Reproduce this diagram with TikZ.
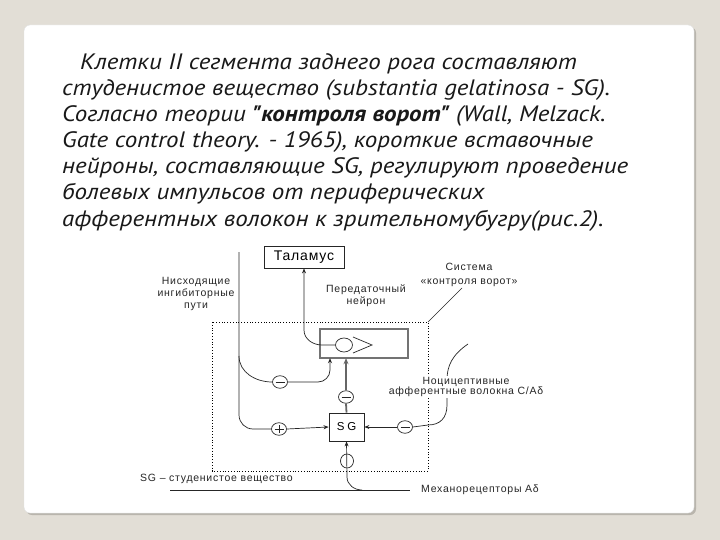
\documentclass[tikz,border=0pt]{standalone}
\usepackage{fontspec}
\setmainfont{Liberation Sans}
\newfontfamily\cyrbody[FakeStretch=1.12,Ligatures=TeXOff]{PT Sans}
\usetikzlibrary{arrows.meta,shapes.geometric}
\definecolor{bgc}{HTML}{E2DED6}
\definecolor{edgec}{HTML}{B9B5AD}
\begin{document}
\begin{tikzpicture}[x=1pt,y=-1pt,
  body/.style={font=\fontsize{22.3}{26}\selectfont\cyrbody\itshape, anchor=base west, inner sep=0pt, text=black!90},
  lbl/.style={font=\fontsize{10.5}{12}\selectfont\addfontfeatures{LetterSpace=7}, align=center, inner sep=1pt, text=black!85},
  ln/.style={line width=0.7pt, draw=black!85},
  arr/.style={ln, -{Stealth[length=5pt,width=4pt]}},
  sgn/.style={ellipse, draw=black!85, line width=0.7pt, minimum width=15pt, minimum height=12.5pt, inner sep=0pt, fill=white},
  minussign/.style={sgn, path picture={\draw[line width=0.7pt, black!85] ([xshift=-4.5pt]path picture bounding box.center) -- ([xshift=4.5pt]path picture bounding box.center);}},
  plussign/.style={sgn, path picture={\draw[line width=0.7pt, black!85] ([xshift=-4.5pt]path picture bounding box.center) -- ([xshift=4.5pt]path picture bounding box.center) ([yshift=-4pt]path picture bounding box.center) -- ([yshift=4pt]path picture bounding box.center);}},
]
\useasboundingbox (0,0) rectangle (720,540);
\fill[bgc] (0,0) rectangle (720,540);
% panel
\fill[edgec, rounded corners=6pt] (26,27) rectangle (696,515);
\fill[white, rounded corners=6pt] (24,25) rectangle (694,513);
\draw[black!12, rounded corners=6pt] (24,25) rectangle (694,513);

% body text
\node[body] (t1) at (80,70) {Клетки II сегмента заднего рога составляют};
\node[body] (t2) at (62,96) {студенистое вещество (substantia gelatinosa - SG).};
\node[body] (t3) at (62,122) {Согласно теории \textbf{"контроля ворот"} (Wall, Melzack.};
\node[body] (t4) at (62,148) {Gate control theory. - 1965), короткие вставочные};
\node[body] (t5) at (62,174) {нейроны, составляющие SG, регулируют проведение};
\node[body] (t6) at (62,200) {болевых импульсов от периферических};
\node[body] (t7) at (62,226) {афферентных волокон к зрительномубугру(рис.2).};

% diagram
\draw[black, dotted, line width=0.8pt] (212,322) rectangle (428,471);
\coordinate (gc) at (428,322);
\coordinate (gl) at (462,288);
\draw[ln, line width=0.5pt] (gc) -- (gl);

\node[draw=black!85, line width=0.8pt, minimum width=80pt, minimum height=22pt, inner sep=0pt,
      font=\fontsize{14}{14}\selectfont\addfontfeatures{LetterSpace=6}] (thal) at (304,257) {Таламус};

\node[draw=black!55, line width=1.3pt, minimum width=88pt, minimum height=29pt, inner sep=0pt] (tn) at (364,343.5) {};
\node[ellipse, draw=black!85, line width=0.7pt, minimum width=17pt, minimum height=14pt, inner sep=0pt] (soma) at (344,345) {};
\coordinate (chev1) at (353,337);
\coordinate (chev2) at (372,345);
\coordinate (chev3) at (353,353);
\draw[ln, line join=miter] (chev1) -- (chev2) -- (chev3);
\draw[arr] (soma.west) -- (322,345) to[out=180,in=-90] (304,330) -- (thal.south);

\node[draw=black!85, line width=0.8pt, minimum width=35pt, minimum height=28pt, inner sep=0pt,
      font=\fontsize{11.5}{11.5}\selectfont\addfontfeatures{LetterSpace=25}] (sg) at (346.5,427) {SG};

% descending inhibitory path
\coordinate (dtop) at (239,252);
\coordinate (dfork) at (239,356);
\node[minussign] (m1) at (280,382) {};
\node[plussign] (p1) at (279,429) {};
\draw[ln, rounded corners=14pt] (dtop) -- (239,429) -- (p1.west);
\draw[ln] (dfork) to[out=-90,in=180] (m1.west);
\draw[arr, rounded corners=12pt] (m1.east) -| (330,358.2);
\draw[arr] (p1.east) -- (sg.west);

% SG to transmission neuron
\node[minussign] (m2) at (346,397) {};
\draw[line width=1.8pt, black!60] (sg.north) -- (m2.south);
\draw[line width=1.8pt, black!60, -{Stealth[length=6pt,width=5pt]}] (m2.north) -- (346,358.2);

% nociceptive fibres
\node[minussign] (m3) at (405,427) {};
\coordinate (nf) at (468,344);
\draw[ln] (nf) .. controls (452,355) and (447,366) .. (447,380) -- (447,405) .. controls (447,418) and (440,425) .. (428,425) -- (m3.east);
\draw[arr] (m3.west) -- (sg.east);

% mechanoreceptors
\coordinate (ml) at (170,490);
\coordinate (mr) at (410,490);
\draw[ln] (ml) -- (mr);
\draw[arr] (362,490) to[out=180,in=-90] (347,477) -- (sg.south);
\node[ellipse, draw=black!85, line width=0.7pt, minimum width=13pt, minimum height=14pt, inner sep=0pt] (c4) at (347,461) {};

% labels
\node[lbl] (ldesc) at (196,294) {Нисходящие\\ингибиторные\\пути};
\node[lbl] (ltn) at (366,296) {Передаточный\\нейрон};
\node[lbl, font=\fontsize{10.5}{14}\selectfont\addfontfeatures{LetterSpace=7}] (lgate) at (469,275) {Система\\«контроля ворот»};
\node[lbl, fill=white, font=\fontsize{10.5}{10.5}\selectfont\addfontfeatures{LetterSpace=7}] (lnoc) at (466,387) {Ноцицептивные\\афферентные волокна С/Аδ};
\node[lbl, anchor=west] (lsg) at (139,479) {SG – студенистое вещество};
\node[lbl, anchor=west] (lmech) at (420,490) {Механорецепторы Аδ};
\end{tikzpicture}
\end{document}
